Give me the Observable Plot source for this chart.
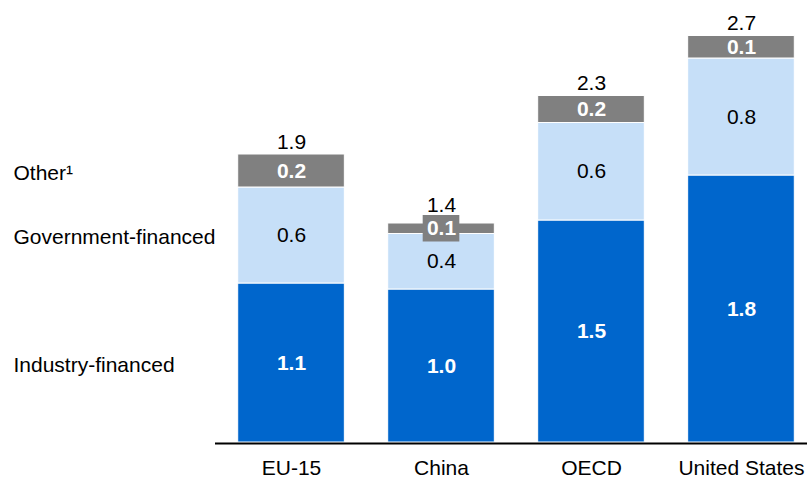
<!DOCTYPE html>
<html>
<head>
<meta charset="utf-8">
<script src="https://cdn.jsdelivr.net/npm/d3@7"></script>
<script src="https://cdn.jsdelivr.net/npm/@observablehq/plot@0.6"></script>
<style>
  html, body { margin: 0; padding: 0; background: #fff; }
  #chart svg { display: block; }
</style>
</head>
<body>
<div id="chart"></div>
<script>
// ---- data ----
const regions = ["EU-15", "China", "OECD", "United States"];
const seriesNames = ["Industry-financed", "Government-financed", "Other¹"];
const industry = [1.06, 1.02, 1.48, 1.78];
const government = [0.64, 0.37, 0.65, 0.78];
const other = [0.22, 0.07, 0.18, 0.15];
const industryLabels = ["1.1", "1.0", "1.5", "1.8"];
const governmentLabels = ["0.6", "0.4", "0.6", "0.8"];
const otherLabels = ["0.2", "0.1", "0.2", "0.1"];
const totalLabels = ["1.9", "1.4", "2.3", "2.7"];

// ---- styles ----
const seriesColors = ["#0066CC", "#C6DFF8", "#808080"];
const seriesTextColors = ["#ffffff", "#000000", "#ffffff"];
const seriesWeights = ["bold", "normal", "bold"];
const FONT = "'Liberation Sans', Arial, Helvetica, sans-serif";
const FS = 21;
const THIN = 0.1; // segments thinner than this get a label box

// ---- build tables ----
const seriesValues = [industry, government, other];
const seriesLabels = [industryLabels, governmentLabels, otherLabels];
const rows = [];
regions.forEach((region, i) => {
  let base = 0;
  seriesNames.forEach((series, j) => {
    const v = seriesValues[j][i];
    rows.push({region, series, j, value: v, label: seriesLabels[j][i], y1: base, y2: base + v, mid: base + v / 2});
    base += v;
  });
});
const totals = regions.map((region, i) => ({
  region,
  total: industry[i] + government[i] + other[i],
  label: totalLabels[i],
  thinTop: other[i] < THIN
}));

const marks = [
  Plot.barY(rows, {x: "region", y1: "y1", y2: "y2", fill: "series", stroke: "#ffffff", strokeWidth: 1}),
  Plot.ruleY([0], {insetLeft: 215, stroke: "#000", strokeWidth: 2, dy: 1}),
  Plot.text(totals.filter(d => !d.thinTop), {x: "region", y: "total", text: "label", lineAnchor: "bottom", dy: -6, fontSize: FS, fill: "#000"}),
  Plot.text(totals.filter(d => d.thinTop), {x: "region", y: "total", text: "label", lineAnchor: "bottom", dy: -12, fontSize: FS, fill: "#000"}),
  // label background for segments too thin to hold their label
  Plot.barY(rows.filter(d => d.value < THIN), {x: "region", y1: "y1", y2: "y2", fill: "#808080", insetLeft: 35, insetRight: 35, insetTop: -8, insetBottom: -8})
];
seriesNames.forEach((s, j) => {
  marks.push(Plot.text(rows.filter(d => d.j === j), {
    x: "region", y: "mid", text: "label",
    fill: seriesTextColors[j], fontWeight: seriesWeights[j], fontSize: FS
  }));
});
// series names on the left, aligned with the first bar's segments
marks.push(Plot.text(rows.filter(d => d.region === regions[0]), {
  y: "mid", text: "series", frameAnchor: "left", textAnchor: "start", dx: 13, dy: 2, fontSize: FS, fill: "#000"
}));
marks.push(Plot.axisX({tickSize: 0, tickPadding: 18, fontSize: FS, fill: "#000", color: "#000"}));

const chart = Plot.plot({
  width: 807,
  height: 478,
  marginLeft: 0,
  marginRight: 0,
  marginTop: 0,
  marginBottom: 36,
  style: {fontFamily: FONT, fontSize: FS + "px", color: "#000", background: "#fff"},
  x: {domain: regions, range: [237.7, 794.3], paddingInner: 0.289, paddingOuter: 0, round: false, label: null},
  y: {domain: [0, 2.8], range: [442, 22], axis: null},
  color: {domain: seriesNames, range: seriesColors},
  marks
});
document.getElementById("chart").appendChild(chart);
</script>
</body>
</html>
